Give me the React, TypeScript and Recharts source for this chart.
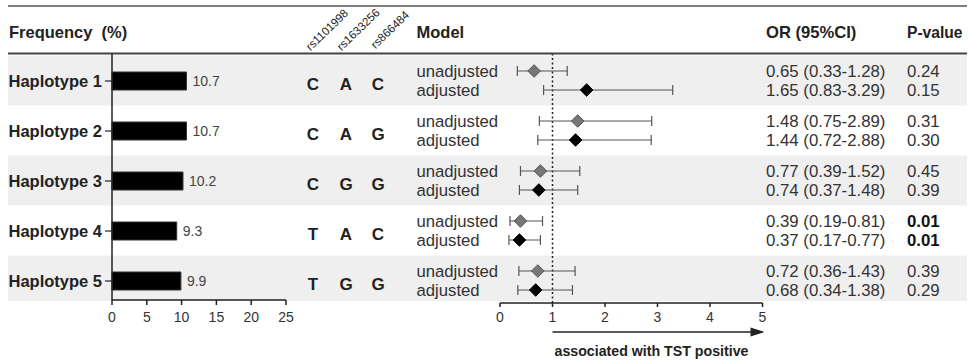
import React from 'react';
import {
  BarChart,
  Bar,
  XAxis,
  YAxis,
  LabelList,
  ScatterChart,
  Scatter,
  ErrorBar,
  ReferenceLine,
  Label,
} from 'recharts';

// ---------- data ----------
const haplotypes = ['Haplotype 1', 'Haplotype 2', 'Haplotype 3', 'Haplotype 4', 'Haplotype 5'];
const frequency = [10.7, 10.7, 10.2, 9.3, 9.9];
const snpNames = ['rs1101998', 'rs1633256', 'rs866484'];
const alleles = [
  ['C', 'A', 'C'],
  ['C', 'A', 'G'],
  ['C', 'G', 'G'],
  ['T', 'A', 'C'],
  ['T', 'G', 'G'],
];
const modelNames = ['unadjusted', 'adjusted'];
const orUnadj = [0.65, 1.48, 0.77, 0.39, 0.72];
const loUnadj = [0.33, 0.75, 0.39, 0.19, 0.36];
const hiUnadj = [1.28, 2.89, 1.52, 0.81, 1.43];
const orAdj = [1.65, 1.44, 0.74, 0.37, 0.68];
const loAdj = [0.83, 0.72, 0.37, 0.17, 0.34];
const hiAdj = [3.29, 2.88, 1.48, 0.77, 1.38];
const pUnadj = [0.24, 0.31, 0.45, 0.01, 0.39];
const pAdj = [0.15, 0.3, 0.39, 0.01, 0.29];
const freqTicks = [0, 5, 10, 15, 20, 25];
const orTicks = [0, 1, 2, 3, 4, 5];

// ---------- layout ----------
const W = 972;
const H = 362;
const FONT = '"Liberation Sans", Arial, Helvetica, sans-serif';
const TEXT = '#222';
const ROW_TOP = 54;
const ROW_BOTTOM = 301;
const ROW_PITCH = 50;
const ROW_DOMAIN: [number, number] = [-0.53, 4.45];
const OR_DOMAIN: [number, number] = [0, 5];
const MODEL_SHIFT = 0.19;
const rowCenter = (i: number) => ROW_TOP + (i - ROW_DOMAIN[0]) * ROW_PITCH;

const barData = haplotypes.map((name, i) => ({ name, freq: frequency[i] }));
const unadjData = haplotypes.map((name, i) => ({
  name,
  row: i - MODEL_SHIFT,
  or: orUnadj[i],
  err: [orUnadj[i] - loUnadj[i], hiUnadj[i] - orUnadj[i]],
}));
const adjData = haplotypes.map((name, i) => ({
  name,
  row: i + MODEL_SHIFT,
  or: orAdj[i],
  err: [orAdj[i] - loAdj[i], hiAdj[i] - orAdj[i]],
}));

const makeDiamond = (fill: string, stroke: string) => (props: any) => {
  const { cx, cy } = props;
  if (cx == null || cy == null) return <g />;
  const rx = 6.3;
  const ry = 6.3;
  return (
    <polygon
      points={`${cx},${cy - ry} ${cx + rx},${cy} ${cx},${cy + ry} ${cx - rx},${cy}`}
      fill={fill}
      stroke={stroke}
      strokeWidth={1}
    />
  );
};

const ArrowLabel = (props: any) => {
  const vb = props.viewBox || {};
  const x = vb.x ?? 500;
  const y = vb.y ?? 303;
  const width = vb.width ?? 262.5;
  const x1 = x + (width * (1 - OR_DOMAIN[0])) / (OR_DOMAIN[1] - OR_DOMAIN[0]);
  const x2 = x + width + 2;
  const ay = y + 29;
  return (
    <g>
      <line x1={x1} y1={ay} x2={x2 - 10} y2={ay} stroke="#222" strokeWidth={1.6} />
      <polygon points={`${x2},${ay} ${x2 - 14},${ay - 4.5} ${x2 - 14},${ay + 4.5}`} fill="#222" />
      <text
        x={(x1 + x2) / 2 - 7}
        y={y + 47.5}
        textAnchor="middle"
        dominantBaseline="central"
        fontFamily={FONT}
        fontWeight="bold"
        fontSize={14.2}
        fill={TEXT}
      >
        associated with TST positive
      </text>
    </g>
  );
};

export default function App() {
  const snpX = [313, 346, 378];
  const snpHeaderPos = [
    [311, 52],
    [342, 52],
    [376, 50],
  ];
  const hfs = 11.5;
  return (
    <div
      style={{
        position: 'absolute',
        left: 0,
        top: 0,
        width: W,
        height: H,
        background: '#fff',
        fontFamily: FONT,
        overflow: 'hidden',
      }}
    >
      {/* background bands and rules */}
      <svg width={W} height={H} style={{ position: 'absolute', left: 0, top: 0 }}>
        {haplotypes.map((h, i) =>
          i % 2 === 0 ? (
            <rect
              key={h}
              x={8}
              width={959}
              y={Math.max(ROW_TOP, rowCenter(i) - 25)}
              height={Math.min(ROW_BOTTOM, rowCenter(i) + 25) - Math.max(ROW_TOP, rowCenter(i) - 25)}
              fill="#efefef"
            />
          ) : null
        )}
        <line x1={8} x2={967} y1={6} y2={6} stroke="#555" strokeWidth={1.6} />
        <line x1={8} x2={967} y1={53.5} y2={53.5} stroke="#444" strokeWidth={1.8} />
      </svg>

      {/* frequency bars */}
      <div style={{ position: 'absolute', left: 0, top: 0 }}>
        <BarChart
          width={W}
          height={H}
          data={barData}
          layout="vertical"
          margin={{ top: 54, right: 686, bottom: 0, left: 0 }}
        >
          <XAxis
            type="number"
            dataKey="freq"
            domain={[0, 25]}
            ticks={freqTicks}
            height={62}
            tickSize={5}
            tickMargin={7.5}
            axisLine={{ stroke: '#222', strokeWidth: 1.5 }}
            tickLine={{ stroke: '#222', strokeWidth: 1.5 }}
            tick={{ fontSize: 14, fill: '#333', fontFamily: FONT }}
            interval={0}
          />
          <YAxis
            type="category"
            dataKey="name"
            width={112}
            tickSize={7}
            tickMargin={3}
            padding={{ top: 2, bottom: -6 }}
            axisLine={{ stroke: '#222', strokeWidth: 1.5 }}
            tickLine={{ stroke: '#222', strokeWidth: 1.2 }}
            tick={{ fontSize: 16.5, fontWeight: 'bold', fill: TEXT, fontFamily: FONT }}
            interval={0}
          />
          <Bar dataKey="freq" fill="#000" stroke="#333" strokeWidth={1} barSize={18} isAnimationActive={false}>
            <LabelList
              dataKey="freq"
              position="right"
              offset={6}
              fill="#444"
              fontSize={14}
              fontFamily={FONT}
              formatter={(v: any) => Number(v).toFixed(1)}
            />
          </Bar>
        </BarChart>
      </div>

      {/* forest plot */}
      <div style={{ position: 'absolute', left: 0, top: 0 }}>
        <ScatterChart width={W} height={H} margin={{ top: 54, right: 209.5, bottom: 0, left: 500 }}>
          <XAxis
            type="number"
            dataKey="or"
            domain={OR_DOMAIN}
            ticks={orTicks}
            allowDataOverflow
            height={59}
            tickSize={4}
            tickMargin={5.5}
            axisLine={{ stroke: '#222', strokeWidth: 1.5 }}
            tickLine={{ stroke: '#222', strokeWidth: 1.5 }}
            tick={{ fontSize: 14, fill: '#333', fontFamily: FONT }}
            interval={0}
          >
            <Label content={ArrowLabel} />
          </XAxis>
          <YAxis type="number" dataKey="row" domain={ROW_DOMAIN} reversed hide allowDataOverflow />
          <ReferenceLine x={1} stroke="#222" strokeWidth={1.5} strokeDasharray="2 2.5" />
          <Scatter data={unadjData} shape={makeDiamond('#777', '#555')} isAnimationActive={false}>
            <ErrorBar dataKey="err" direction="x" width={5} stroke="#555" strokeWidth={1.2} />
          </Scatter>
          <Scatter data={adjData} shape={makeDiamond('#000', '#000')} isAnimationActive={false}>
            <ErrorBar dataKey="err" direction="x" width={5} stroke="#555" strokeWidth={1.2} />
          </Scatter>
        </ScatterChart>
      </div>

      {/* rotated SNP headers */}
      {snpNames.map((s, k) => (
        <div
          key={s}
          style={{
            position: 'absolute',
            left: snpHeaderPos[k][0],
            top: snpHeaderPos[k][1] - 0.85 * hfs,
            fontSize: hfs,
            lineHeight: 1,
            color: TEXT,
            whiteSpace: 'nowrap',
            transformOrigin: `0px ${0.85 * hfs}px`,
            transform: 'rotate(-44deg)',
          }}
        >
          {s}
        </div>
      ))}

      {/* text columns */}
      <svg width={W} height={H} style={{ position: 'absolute', left: 0, top: 0 }} fontFamily={FONT}>
        <g fontWeight="bold" fill={TEXT} dominantBaseline="central">
          <text x={9} y={32} fontSize={16.5} style={{ whiteSpace: 'pre' }}>
            {'Frequency  (%)'}
          </text>
          <text x={416.5} y={32} fontSize={16.5}>Model</text>
          <text x={766} y={32} fontSize={16.6}>OR (95%CI)</text>
          <text x={907} y={32} fontSize={15.6}>P-value</text>
        </g>
        {haplotypes.map((h, i) => {
          const c = rowCenter(i);
          const yU = c - MODEL_SHIFT * ROW_PITCH;
          const yA = c + MODEL_SHIFT * ROW_PITCH;
          return (
            <g key={h} dominantBaseline="central" fill={TEXT}>
              {alleles[i].map((a, k) => (
                <text key={k} x={snpX[k]} y={c + 3.5} textAnchor="middle" fontSize={17} fontWeight="bold">
                  {a}
                </text>
              ))}
              <text x={416.5} y={yU} fontSize={16.7} fill="#333">{modelNames[0]}</text>
              <text x={416.5} y={yA} fontSize={16.7} fill="#333">{modelNames[1]}</text>
              <text x={766} y={yU} fontSize={16.8} fill="#333">
                {`${orUnadj[i].toFixed(2)} (${loUnadj[i].toFixed(2)}-${hiUnadj[i].toFixed(2)})`}
              </text>
              <text x={766} y={yA} fontSize={16.8} fill="#333">
                {`${orAdj[i].toFixed(2)} (${loAdj[i].toFixed(2)}-${hiAdj[i].toFixed(2)})`}
              </text>
              <text x={907} y={yU} fontSize={16.8} fill={pUnadj[i] <= 0.01 ? '#111' : '#333'} fontWeight={pUnadj[i] <= 0.01 ? 'bold' : 'normal'}>
                {pUnadj[i].toFixed(2)}
              </text>
              <text x={907} y={yA} fontSize={16.8} fill={pAdj[i] <= 0.01 ? '#111' : '#333'} fontWeight={pAdj[i] <= 0.01 ? 'bold' : 'normal'}>
                {pAdj[i].toFixed(2)}
              </text>
            </g>
          );
        })}
      </svg>
    </div>
  );
}
